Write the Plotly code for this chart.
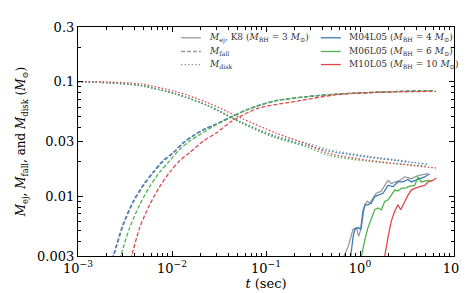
import plotly.graph_objects as go

# ---------------- data ----------------
# fallback mass M_fall (dashed)
t_fall_blue = [0.00228, 0.00240, 0.00301, 0.00385, 0.00491, 0.00628, 0.00802, 0.01025, 0.0131, 0.0167, 0.0214, 0.0296, 0.0427, 0.0644, 0.125, 0.280, 0.583, 1.03, 2.36, 5.28, 5.9]
m_fall_blue = [0.0028, 0.00314, 0.00566, 0.00898, 0.01245, 0.01619, 0.0204, 0.0240, 0.0292, 0.0337, 0.0380, 0.0428, 0.0493, 0.0574, 0.0680, 0.0741, 0.0779, 0.0798, 0.0819, 0.0834, 0.0836]
t_fall_grey = [0.00232, 0.00244, 0.00305, 0.00390, 0.00497, 0.00635, 0.00810, 0.01035, 0.0132, 0.0168, 0.0215, 0.0297, 0.0428, 0.0645, 0.125, 0.280, 0.583, 1.03, 2.36, 4.5]
m_fall_grey = [0.0028, 0.00314, 0.00560, 0.00885, 0.01225, 0.0160, 0.0201, 0.0237, 0.0289, 0.0334, 0.0377, 0.0426, 0.0491, 0.0572, 0.0678, 0.0740, 0.0778, 0.0797, 0.0818, 0.0830]
t_fall_green = [0.00276, 0.00289, 0.00355, 0.00453, 0.00579, 0.00740, 0.00946, 0.0121, 0.0154, 0.0197, 0.0273, 0.0427, 0.0644, 0.125, 0.280, 0.583, 1.03, 2.36, 5.28, 6.0]
m_fall_green = [0.0028, 0.00314, 0.00531, 0.00840, 0.0121, 0.01619, 0.0204, 0.0256, 0.0302, 0.0344, 0.0405, 0.0488, 0.0574, 0.0680, 0.0741, 0.0779, 0.0798, 0.0819, 0.0832, 0.0834]
t_fall_red = [0.00362, 0.00378, 0.00453, 0.00579, 0.00740, 0.00946, 0.0121, 0.0154, 0.0214, 0.0296, 0.0427, 0.0822, 0.184, 0.583, 1.5, 3.5, 6.44]
m_fall_red = [0.0028, 0.00314, 0.00531, 0.00840, 0.0121, 0.01619, 0.0204, 0.0240, 0.0302, 0.0356, 0.0448, 0.0585, 0.0662, 0.0771, 0.0805, 0.0818, 0.0822]

# disk mass M_disk (dotted)
t_disk = [0.001, 0.00209, 0.00468, 0.01076, 0.0242, 0.0542, 0.125, 0.280, 0.457, 1.22, 5.28]
m_disk_green = [0.1, 0.0977, 0.0921, 0.0782, 0.0615, 0.0436, 0.0324, 0.0267, 0.0228, 0.0202, 0.0183]
m_disk_blue = [0.1, 0.0977, 0.0921, 0.0782, 0.0615, 0.0440, 0.0330, 0.0276, 0.0248, 0.0219, 0.0190]
t_disk_grey = [0.001, 0.00209, 0.00468, 0.01076, 0.0242, 0.0542, 0.125, 0.280, 0.457, 1.22, 3.24]
m_disk_grey = [0.1, 0.0978, 0.0923, 0.0786, 0.0620, 0.0446, 0.0338, 0.0288, 0.0256, 0.0223, 0.0202]
t_disk_red = [0.001, 0.00209, 0.00468, 0.01076, 0.0242, 0.0542, 0.125, 0.280, 0.457, 1.22, 6.44]
m_disk_red = [0.1, 0.0993, 0.0953, 0.0822, 0.0653, 0.0481, 0.0358, 0.0282, 0.0237, 0.0206, 0.0176]

# ejecta mass M_ej (solid)
t_ej_grey = [0.64, 0.676, 0.745, 0.843, 0.914, 0.968, 1.032, 1.122, 1.197, 1.268, 1.374, 1.489, 1.671, 1.832, 1.986, 2.153, 2.339, 2.642, 2.992, 3.516, 4.140, 4.876, 5.285]
m_ej_grey = [0.0026, 0.0030, 0.00358, 0.00513, 0.00531, 0.00445, 0.00531, 0.00840, 0.00904, 0.00869, 0.00957, 0.0106, 0.0110, 0.0124, 0.0137, 0.0129, 0.0133, 0.0137, 0.0147, 0.0142, 0.0151, 0.0154, 0.0157]
t_ej_blue = [0.77, 0.796, 0.843, 0.879, 0.953, 1.016, 1.076, 1.138, 1.216, 1.318, 1.432, 1.552, 1.758, 1.986, 2.244, 2.535, 2.865, 3.243, 3.516, 4.140, 4.876, 5.508]
m_ej_blue = [0.0026, 0.0030, 0.00436, 0.00513, 0.00531, 0.00513, 0.00741, 0.00840, 0.00840, 0.00869, 0.00991, 0.0102, 0.0106, 0.0124, 0.0121, 0.0133, 0.0133, 0.0140, 0.0133, 0.0140, 0.0147, 0.0157]
t_ej_green = [1.0, 1.032, 1.122, 1.216, 1.318, 1.432, 1.552, 1.686, 1.832, 1.986, 2.153, 2.339, 2.535, 2.748, 3.111, 3.243, 3.819, 4.140, 4.487, 5.285, 5.741]
m_ej_green = [0.0026, 0.0030, 0.00411, 0.00531, 0.00646, 0.00760, 0.00787, 0.00760, 0.00898, 0.00927, 0.0102, 0.0113, 0.0111, 0.0117, 0.0118, 0.0121, 0.0124, 0.0147, 0.0133, 0.0137, 0.0135]
t_ej_red = [1.80, 1.832, 1.986, 2.153, 2.339, 2.535, 2.710, 2.992, 3.243, 3.516, 3.819, 4.315, 4.876, 5.285, 5.98, 6.48]
m_ej_red = [0.0026, 0.0030, 0.00436, 0.00605, 0.00738, 0.00840, 0.00760, 0.00898, 0.0102, 0.0113, 0.0117, 0.0121, 0.0124, 0.0133, 0.0137, 0.0144]

x_tickvals = [1e-3, 1e-2, 1e-1, 1e0, 1e1]
x_ticktext = ["10<sup>−3</sup>", "10<sup>−2</sup>", "10<sup>−1</sup>", "10<sup>0</sup>", "10<sup>1</sup>"]
y_tickvals = [0.003, 0.01, 0.03, 0.1, 0.3]
y_ticktext = ["0.003", "0.01", "0.03", "0.1", "0.3"]

legend_left = ["<i>M</i><sub>ej</sub>, K8 (<i>M</i><sub>BH</sub> = 3 <i>M</i><sub>⊙</sub>)",
               "<i>M</i><sub>fall</sub>", "<i>M</i><sub>disk</sub>"]
legend_left_dash = ["solid", "4px,2px", "1.5px,2px"]
legend_right = ["M04L05 (<i>M</i><sub>BH</sub> = 4 <i>M</i><sub>⊙</sub>)",
                "M06L05 (<i>M</i><sub>BH</sub> = 6 <i>M</i><sub>⊙</sub>)",
                "M10L05 (<i>M</i><sub>BH</sub> = 10 <i>M</i><sub>⊙</sub>)"]

GREY = "#9a9a9a"
BLUE = "#3d7ab8"
GREEN = "#4fb34f"
RED = "#e0474a"
legend_right_colors = [BLUE, GREEN, RED]

FONT = "DejaVu Serif"
DASH = "4px,2px"
DOT = "1.5px,2px"
LW = 1.3

fig = go.Figure()

def add(t, m, color, dash, shape="linear"):
    fig.add_trace(go.Scatter(x=t, y=m, mode="lines", showlegend=False,
                             line=dict(color=color, width=LW, dash=dash, shape=shape,
                                       smoothing=0.8 if shape == "spline" else None)))

# disk
add(t_disk_grey, m_disk_grey, GREY, DOT, "spline")
add(t_disk, m_disk_blue, BLUE, DOT, "spline")
add(t_disk, m_disk_green, GREEN, DOT, "spline")
add(t_disk_red, m_disk_red, RED, DOT, "spline")
# fall
add(t_fall_grey, m_fall_grey, GREY, DASH, "spline")
add(t_fall_blue, m_fall_blue, BLUE, DASH, "spline")
add(t_fall_green, m_fall_green, GREEN, DASH, "spline")
add(t_fall_red, m_fall_red, RED, DASH, "spline")
# ejecta
add(t_ej_grey, m_ej_grey, GREY, "solid")
add(t_ej_blue, m_ej_blue, BLUE, "solid")
add(t_ej_green, m_ej_green, GREEN, "solid")
add(t_ej_red, m_ej_red, RED, "solid")

# minor ticks
x_minor = [k * 10.0 ** e for e in range(-3, 1) for k in range(2, 10)]
y_minor = [k * 10.0 ** e for e in range(-3, 0) for k in range(2, 10)]

fig.update_xaxes(type="log", range=[-3, 1], tickvals=x_tickvals, ticktext=x_ticktext,
                 ticks="inside", ticklen=5, tickwidth=1, tickcolor="black",
                 mirror="allticks", showline=True, linecolor="black", linewidth=1.2,
                 showgrid=False, zeroline=False,
                 minor=dict(tickmode="array", tickvals=x_minor, ticks="inside",
                            ticklen=2.5, tickwidth=1, tickcolor="black", showgrid=False),
                 tickfont=dict(family=FONT, size=13, color="black"),
                 title=dict(text="<i>t</i> (sec)", font=dict(family=FONT, size=13, color="black"),
                            standoff=4))
fig.update_yaxes(type="log", range=[-2.5229, -0.5229], tickvals=y_tickvals, ticktext=y_ticktext,
                 ticks="inside", ticklen=5, tickwidth=1, tickcolor="black",
                 mirror="allticks", showline=True, linecolor="black", linewidth=1.2,
                 showgrid=False, zeroline=False,
                 minor=dict(tickmode="array", tickvals=[v for v in y_minor if 0.003 < v < 0.3],
                            ticks="inside", ticklen=2.5, tickwidth=1, tickcolor="black", showgrid=False),
                 tickfont=dict(family=FONT, size=13, color="black"),
                 title=dict(text="<i>M</i><sub>ej</sub>, <i>M</i><sub>fall</sub>, and <i>M</i><sub>disk</sub> (<i>M</i><sub>⊙</sub>)",
                            font=dict(family=FONT, size=12, color="black"), standoff=8))

# manual legend (paper coordinates)
rows_y = [0.953, 0.893, 0.836]
for i, (txt, dsh) in enumerate(zip(legend_left, legend_left_dash)):
    fig.add_shape(type="line", xref="paper", yref="paper", x0=0.274, x1=0.327,
                  y0=rows_y[i], y1=rows_y[i], line=dict(color=GREY, width=LW, dash=dsh))
    fig.add_annotation(xref="paper", yref="paper", x=0.343, y=rows_y[i], text=txt,
                       showarrow=False, xanchor="left", yanchor="middle",
                       font=dict(family=FONT, size=9, color="#333333"))
for i, (txt, col) in enumerate(zip(legend_right, legend_right_colors)):
    fig.add_shape(type="line", xref="paper", yref="paper", x0=0.646, x1=0.699,
                  y0=rows_y[i], y1=rows_y[i], line=dict(color=col, width=LW))
    fig.add_annotation(xref="paper", yref="paper", x=0.715, y=rows_y[i], text=txt,
                       showarrow=False, xanchor="left", yanchor="middle",
                       font=dict(family=FONT, size=9, color="#333333"))

fig.update_layout(width=469, height=293, margin=dict(l=70, r=23, t=15, b=44),
                  plot_bgcolor="white", paper_bgcolor="white",
                  font=dict(family=FONT, color="black"))

fig.write_html("out.html")
